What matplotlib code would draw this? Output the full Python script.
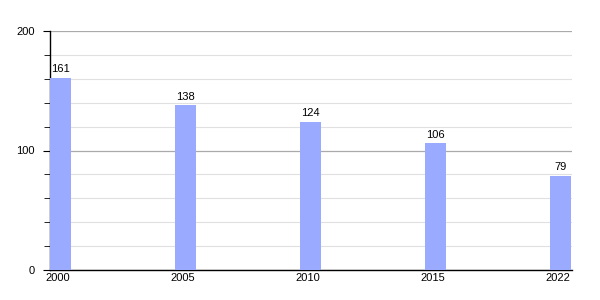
import numpy as np
import matplotlib.pyplot as plt
from matplotlib.ticker import MultipleLocator

plt.rcParams['font.family'] = ['Liberation Sans', 'DejaVu Sans']

years = ['2000', '2005', '2010', '2015', '2022']
values = [161, 138, 124, 106, 79]

fig = plt.figure(figsize=(6, 3), dpi=100)
ax = fig.add_axes([50 / 600, 30 / 300, 522 / 600, 239 / 300])

w = 0.168
x = np.arange(len(years))
ax.bar(x, values, width=w, align='edge', color='#99aaff', zorder=3)
for xi, v in zip(x, values):
    ax.text(xi + w / 2, v + 3, str(v), ha='center', va='bottom', fontsize=8, zorder=4)

ax.set_xlim(0, len(years) - 1 + w + 0.008)
ax.set_ylim(0, 200)
ax.set_xticks(x + w / 2 - 0.02)
ax.set_xticklabels(years, fontsize=8)
ax.tick_params(axis='x', length=0, pad=2)

ax.yaxis.set_major_locator(MultipleLocator(100))
ax.yaxis.set_minor_locator(MultipleLocator(20))
ax.tick_params(axis='y', which='major', length=5, labelsize=8, pad=6)
ax.tick_params(axis='y', which='minor', length=4)
ax.grid(axis='y', which='major', color='#aaaaaa', linewidth=0.9, zorder=0)
ax.grid(axis='y', which='minor', color='#e0e0e0', linewidth=0.8, zorder=0)

for s in ['top', 'right']:
    ax.spines[s].set_visible(False)
ax.spines['left'].set_linewidth(1)
ax.spines['bottom'].set_linewidth(1)

fig.savefig('out.png', dpi=100)
